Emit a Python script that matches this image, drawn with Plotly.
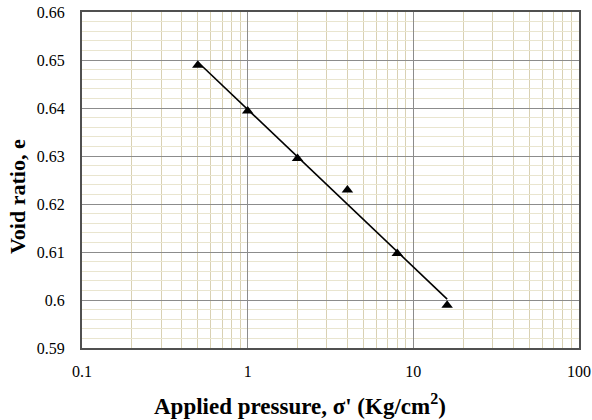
import numpy as np
import plotly.graph_objects as go

# Data
pressure = [0.5, 1, 2, 4, 8, 16]
void_ratio = [0.6489, 0.6394, 0.6295, 0.6229, 0.6097, 0.5989]
x_tickvals = [0.1, 1, 10, 100]
x_ticktext = ["0.1", "1", "10", "100"]

# logarithmic trend line (least squares in log10 x)
lx = np.log10(pressure)
b, a = np.polyfit(lx, void_ratio, 1)
trend_x = [min(pressure), max(pressure)]
trend_y = [a + b * np.log10(v) for v in trend_x]

serif = "Liberation Serif"
tickfont = dict(family=serif, size=16, color="black")

W, H = 592, 420
ml, mr, mt, mb = 82, 13, 12, 72
pw, ph = W - ml - mr, H - mt - mb

fig = go.Figure()
fig.add_trace(go.Scatter(x=trend_x, y=trend_y, mode="lines",
                         line=dict(color="black", width=1.6), showlegend=False))
fig.add_trace(go.Scatter(x=pressure, y=void_ratio, mode="markers",
                         marker=dict(symbol="triangle-up", size=10, color="black"),
                         showlegend=False))

fig.update_layout(
    width=W, height=H,
    margin=dict(l=ml, r=mr, t=mt, b=mb, autoexpand=False),
    paper_bgcolor="white", plot_bgcolor="white",
    font=dict(family=serif, size=16, color="black"),
    xaxis=dict(
        type="log", range=[-1, 2], automargin=False,
        tickvals=x_tickvals, ticktext=x_ticktext, tickfont=tickfont,
        showgrid=True, gridcolor="#8c8c8c", gridwidth=1,
        minor=dict(dtick="D1", showgrid=True, gridcolor="#d9d1b3", gridwidth=1, ticks=""),
        showline=True, mirror=True, linecolor="#505050", linewidth=2,
        ticks="", ticklabelstandoff=8, zeroline=False,
    ),
    yaxis=dict(
        range=[0.59, 0.66], dtick=0.01, tickfont=tickfont, automargin=False,
        showgrid=True, gridcolor="#8c8c8c", gridwidth=1,
        minor=dict(dtick=0.002, showgrid=True, gridcolor="#e9e5cf", gridwidth=1, ticks=""),
        showline=True, mirror=True, linecolor="#505050", linewidth=2,
        ticks="", ticklabelstandoff=12, zeroline=False,
    ),
    annotations=[
        dict(text="<b>Applied pressure, σ' (Kg/cm<sup>2</sup>)</b>",
             xref="paper", yref="paper",
             x=(300 - ml) / pw, y=(H - mb - 404) / ph,
             xanchor="center", yanchor="middle", showarrow=False,
             font=dict(family=serif, size=23, color="black")),
        dict(text="<b>Void ratio, e</b>",
             xref="paper", yref="paper",
             x=(17 - ml) / pw, y=(H - mb - 197) / ph,
             xanchor="center", yanchor="middle", showarrow=False, textangle=-90,
             font=dict(family=serif, size=22, color="black")),
    ],
)

fig.write_html("out.html")
